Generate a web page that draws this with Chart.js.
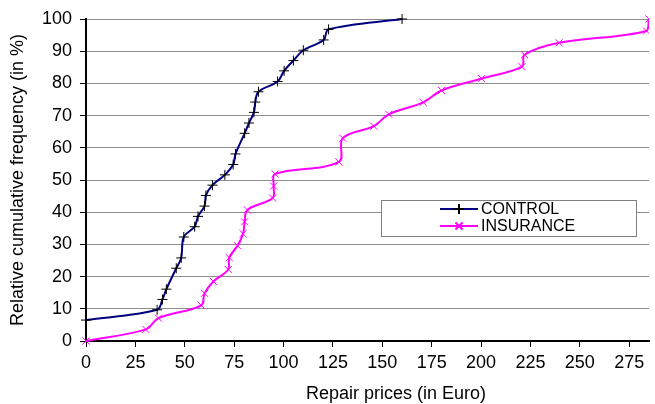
<!DOCTYPE html>
<html lang="en">
<head>
<meta charset="UTF-8" />
<title>Repair prices</title>
<script src="https://cdn.jsdelivr.net/npm/chart.js"></script>
<style>
  html, body { margin: 0; padding: 0; background: #fff; }
  #wrap { width: 655px; height: 404px; }
</style>
</head>
<body>
<div id="wrap"><canvas id="cdf"></canvas></div>
<script>
// values (x = price in Euro, y = cumulative %)
var controlPrice = [0, 36, 38.7, 40.7, 45.7, 48.2, 49.5, 55, 56.7, 60, 60.7, 64, 70.3, 74.5, 75.7,
  80.3, 82.5, 85, 85.7, 87.3, 97, 100.3, 105, 110, 120.3, 122.8, 160];
var controlFreq = [6.5, 9.7, 12.9, 16.1, 22.6, 25.8, 32.3, 35.5, 38.7, 41.9, 45.2, 48.4, 51.6, 54.8, 58.1,
  64.5, 67.7, 71, 74.2, 77.4, 80.6, 83.9, 87.1, 90.3, 93.5, 96.8, 100];

var insurancePrice = [0, 30.3, 36.7, 58.3, 60, 64.5, 72, 72.5, 76.7, 79.5, 80.3, 81.7, 94.5, 95, 95.7,
  128, 130, 145.7, 153.3, 170.7, 180, 200.3, 220.7, 222, 239.5, 283.7, 285];
var insuranceFreq = [0, 3.6, 7.1, 11.1, 14.8, 18.5, 22.2, 25.9, 29.6, 33.3, 37, 40.7, 44.4, 48.1, 51.9,
  55.6, 63, 66.7, 70.4, 74.1, 77.8, 81.5, 85.2, 88.9, 92.6, 96.3, 100];

var seriesNames = ["CONTROL", "INSURANCE"];
var xTickStep = 25, xMax = 285;
var yTickStep = 10, yMax = 100;
var xTitle = 'Repair prices (in Euro)';

function toPoints(xs, ys) {
  return xs.map(function (x, i) { return { x: x, y: ys[i] }; });
}

var FONT = "'Liberation Sans', Arial, sans-serif";

// legend box inside the plot + x title (sits a bit right of centre in the original)
var boxLegend = {
  id: 'boxLegend',
  afterDraw: function (chart) {
    var ctx = chart.ctx;
    var x0 = 381, y0 = 200, w = 255, h = 36;
    ctx.save();
    ctx.fillStyle = '#fff';
    ctx.fillRect(x0, y0, w, h);
    ctx.strokeStyle = '#808080';
    ctx.lineWidth = 1;
    ctx.strokeRect(x0 + 0.5, y0 + 0.5, w, h);
    chart.data.datasets.forEach(function (ds, i) {
      var cy = y0 + 9 + i * 17;
      ctx.strokeStyle = ds.borderColor;
      ctx.lineWidth = ds.borderWidth;
      ctx.beginPath();
      ctx.moveTo(440, cy);
      ctx.lineTo(478, cy);
      ctx.stroke();
      ctx.strokeStyle = ds.pointBorderColor;
      Chart.helpers.drawPoint(ctx, {
        pointStyle: ds.pointStyle, radius: ds.pointRadius,
        borderWidth: ds.pointBorderWidth
      }, 459, cy);
      ctx.fillStyle = '#000';
      ctx.font = '16px ' + FONT;
      ctx.textBaseline = 'middle';
      ctx.textAlign = 'left';
      ctx.fillText(ds.label, 481, cy + 1);
    });

    ctx.fillStyle = '#000';
    ctx.font = '18px ' + FONT;
    ctx.textAlign = 'center';
    ctx.textBaseline = 'middle';
    ctx.fillText(xTitle, 396, 394);
    ctx.restore();
  }
};

new Chart(document.getElementById('cdf'), {
  type: 'line',
  data: {
    datasets: [
      {
        label: seriesNames[0],
        data: toPoints(controlPrice, controlFreq),
        borderColor: '#000080',
        borderWidth: 2,
        tension: 0.35,
        pointStyle: 'cross',
        pointRadius: 5,
        pointBorderColor: '#000',
        pointBorderWidth: 1,
        pointBackgroundColor: '#000',
        clip: false,
        fill: false
      },
      {
        label: seriesNames[1],
        data: toPoints(insurancePrice, insuranceFreq),
        borderColor: '#ff00ff',
        borderWidth: 2,
        tension: 0.35,
        pointStyle: 'crossRot',
        pointRadius: 5,
        pointBorderColor: '#ff00ff',
        pointBorderWidth: 1,
        pointBackgroundColor: '#ff00ff',
        clip: { left: false, top: false, right: 0, bottom: false },
        fill: false
      }
    ]
  },
  options: {
    responsive: true,
    maintainAspectRatio: false,
    animation: false,
    layout: { padding: { top: 19, right: 0, left: 0, bottom: 0 } },
    plugins: {
      legend: { display: false },
      tooltip: { enabled: false }
    },
    scales: {
      x: {
        type: 'linear',
        min: 0,
        max: xMax,
        afterFit: function (s) { s.height = 63; },
        grid: { drawOnChartArea: false, tickLength: 6, tickColor: '#000' },
        border: { color: '#000', width: 2 },
        ticks: {
          stepSize: xTickStep,
          includeBounds: false,
          color: '#000',
          padding: 5,
          maxRotation: 0,
          font: { family: FONT, size: 18 }
        }
      },
      y: {
        min: 0,
        max: yMax,
        afterFit: function (s) { s.width = 86; },
        grid: { color: '#8c8c8c', tickLength: 6, tickColor: '#000' },
        border: { color: '#000', width: 2 },
        ticks: {
          stepSize: yTickStep,
          color: '#000',
          padding: 8,
          font: { family: FONT, size: 18 }
        },
        title: {
          display: true,
          text: 'Relative cumulative frequency (in %)',
          color: '#000',
          padding: { top: 7, bottom: 0 },
          font: { family: FONT, size: 18 }
        }
      }
    }
  },
  plugins: [boxLegend]
});
</script>
</body>
</html>
